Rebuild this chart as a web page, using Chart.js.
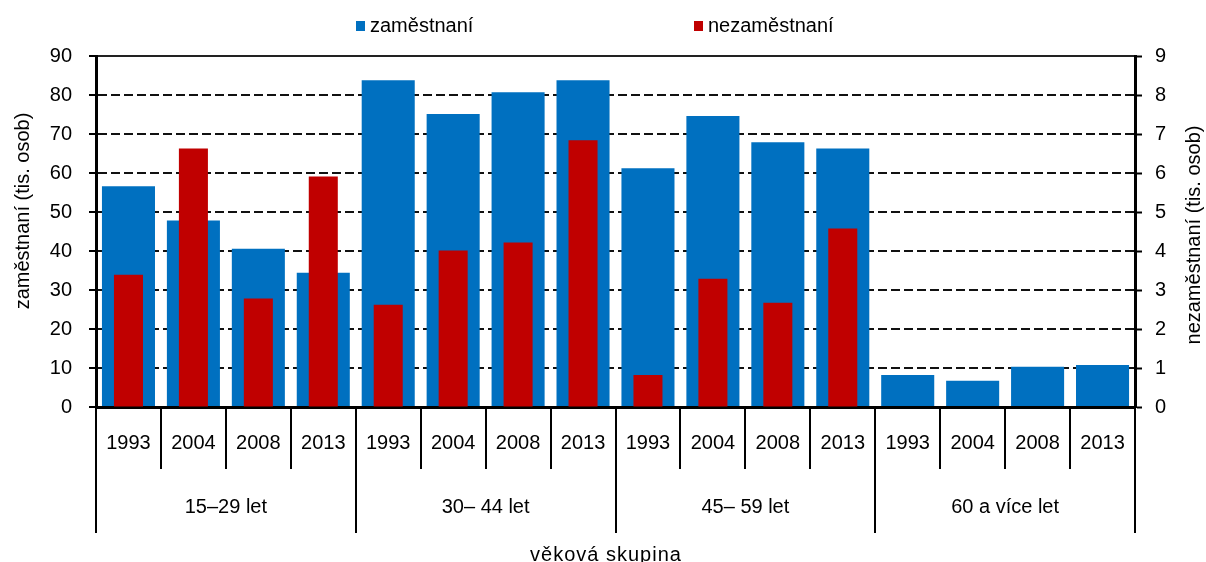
<!DOCTYPE html>
<html lang="cs">
<head>
<meta charset="utf-8">
<title>zaměstnaní a nezaměstnaní podle věkových skupin</title>
<script src="https://cdn.jsdelivr.net/npm/chart.js@4/dist/chart.umd.min.js"></script>
<style>
  html, body { margin: 0; padding: 0; background: #fff; }
  #wrap { width: 1206px; height: 562px; position: relative; }
</style>
</head>
<body>
<div id="wrap"><canvas id="chart"></canvas></div>
<script>
// --- data ---
const groups = ['15–29 let', '30– 44 let', '45– 59 let', '60 a více let'];
const years = ['1993', '2004', '2008', '2013'];

// zaměstnaní (tis. osob) - levá osa
const zamestnani = [56.6, 47.8, 40.6, 34.4, 83.8, 75.1, 80.7, 83.8, 61.2, 74.6, 67.9, 66.3, 8.2, 6.7, 10.3, 10.8];
// nezaměstnaní (tis. osob) - pravá osa
const nezamestnani = [3.39, 6.63, 2.78, 5.91, 2.62, 4.01, 4.22, 6.84, 0.82, 3.29, 2.67, 4.58, null, null, null, null];

const leftTicks = { min: 0, max: 90, step: 10 };
const rightTicks = { min: 0, max: 9, step: 1 };

const BLUE = '#0070C0';
const RED = '#C00000';
const FONT = '"Liberation Sans", Arial, sans-serif';

// kategorie = skupina x rok
const labels = [];
groups.forEach(g => years.forEach(y => labels.push(g + ' ' + y)));

// popisky osy x (roky + skupiny), názvy os a legenda
const axisDecor = {
    id: 'axisDecor',
    afterDraw(chart) {
        const ctx = chart.ctx;
        const x = chart.scales.x;
        const area = chart.chartArea;
        const half = (x.getPixelForValue(1) - x.getPixelForValue(0)) / 2;
        const n = labels.length;

        ctx.save();
        ctx.strokeStyle = '#000';
        ctx.lineWidth = 2;
        for (let i = 0; i <= n; i++) {
            const px = i < n ? x.getPixelForValue(i) - half : x.getPixelForValue(n - 1) + half;
            const bottom = (i % years.length === 0) ? 533 : 469;
            ctx.beginPath();
            ctx.moveTo(Math.round(px), area.bottom);
            ctx.lineTo(Math.round(px), bottom);
            ctx.stroke();
        }

        ctx.fillStyle = '#000';
        ctx.textAlign = 'center';
        ctx.textBaseline = 'middle';
        ctx.font = '20px ' + FONT;
        for (let i = 0; i < n; i++) {
            ctx.fillText(years[i % years.length], x.getPixelForValue(i), 443);
        }
        groups.forEach((g, gi) => {
            const a = x.getPixelForValue(gi * years.length);
            const b = x.getPixelForValue(gi * years.length + years.length - 1);
            ctx.fillText(g, (a + b) / 2, 507);
        });

        ctx.letterSpacing = '1px';
        ctx.fillText('věková skupina', 606, 555);
        ctx.letterSpacing = '0px';

        // názvy os
        ctx.save();
        ctx.translate(23, 211);
        ctx.rotate(-Math.PI / 2);
        ctx.fillText('zaměstnaní (tis. osob)', 0, 0);
        ctx.restore();
        ctx.save();
        ctx.translate(1194, 235);
        ctx.rotate(-Math.PI / 2);
        ctx.fillText('nezaměstnaní (tis. osob)', 0, 0);
        ctx.restore();

        // legenda
        ctx.textAlign = 'left';
        ctx.fillStyle = BLUE;
        ctx.fillRect(356, 21, 9, 10);
        ctx.fillStyle = RED;
        ctx.fillRect(694, 21, 9, 10);
        ctx.fillStyle = '#000';
        ctx.fillText(chart.data.datasets[0].label, 370, 26);
        ctx.fillText(chart.data.datasets[1].label, 708, 26);
        ctx.restore();
    }
};

new Chart(document.getElementById('chart'), {
    type: 'bar',
    data: {
        labels: labels,
        datasets: [
            {
                label: 'zaměstnaní',
                data: zamestnani,
                backgroundColor: BLUE,
                yAxisID: 'y',
                xAxisID: 'x',
                grouped: false,
                barPercentage: 0.817,
                categoryPercentage: 1,
                order: 1
            },
            {
                label: 'nezaměstnaní',
                data: nezamestnani,
                backgroundColor: RED,
                yAxisID: 'y1',
                xAxisID: 'x',
                grouped: false,
                barPercentage: 0.447,
                categoryPercentage: 1,
                order: 0
            }
        ]
    },
    options: {
        responsive: true,
        maintainAspectRatio: false,
        animation: false,
        layout: { padding: { top: 56, left: 0, right: 0, bottom: 0 } },
        plugins: {
            legend: { display: false },
            tooltip: { enabled: false }
        },
        scales: {
            x: {
                position: 'bottom',
                grid: { display: false },
                ticks: { display: false },
                border: { display: true, color: '#000', width: 3 },
                afterFit: s => { s.height = 155; }
            },
            xTop: {
                type: 'category',
                position: 'top',
                grid: { display: false },
                ticks: { display: false },
                border: { display: true, color: '#222', width: 2 },
                afterFit: s => { s.height = 0; }
            },
            y: {
                position: 'left',
                min: leftTicks.min,
                max: leftTicks.max,
                ticks: {
                    stepSize: leftTicks.step,
                    color: '#000',
                    padding: 17,
                    font: { family: FONT, size: 20 }
                },
                grid: {
                    color: '#111',
                    lineWidth: 2,
                    tickColor: '#000',
                    tickWidth: 2,
                    tickLength: 7,
                    tickBorderDash: []
                },
                border: { display: true, color: '#000', width: 3, dash: [9, 4] },
                afterFit: s => { s.width = 96; }
            },
            y1: {
                position: 'right',
                min: rightTicks.min,
                max: rightTicks.max,
                ticks: {
                    stepSize: rightTicks.step,
                    color: '#000',
                    padding: 13,
                    font: { family: FONT, size: 20 }
                },
                grid: {
                    drawOnChartArea: false,
                    tickColor: '#000',
                    tickWidth: 2,
                    tickLength: 7
                },
                border: { display: true, color: '#000', width: 3 },
                afterFit: s => { s.width = 71; }
            }
        }
    },
    plugins: [axisDecor]
});
</script>
</body>
</html>
